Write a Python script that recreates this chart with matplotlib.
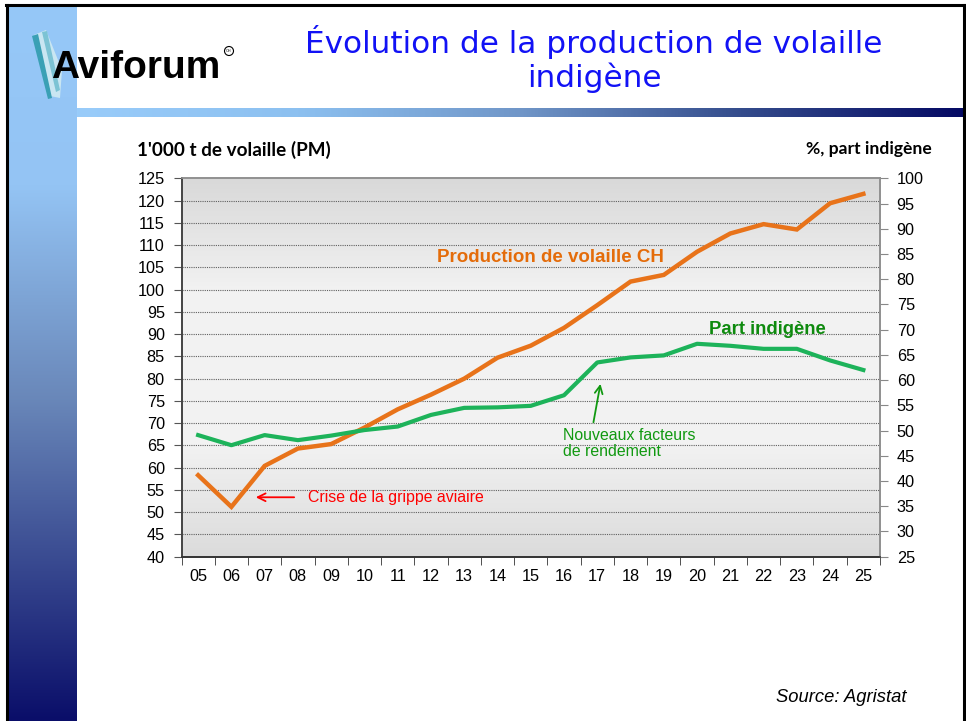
import matplotlib
matplotlib.use("Agg")
import matplotlib.pyplot as plt
from matplotlib.patches import Polygon, Circle
import numpy as np

# data
years = ["05", "06", "07", "08", "09", "10", "11", "12", "13", "14", "15",
         "16", "17", "18", "19", "20", "21", "22", "23", "24", "25"]
production = [58.3, 51.2, 60.4, 64.3, 65.3, 69.0, 73.1, 76.4, 80.0, 84.7, 87.4,
              91.4, 96.5, 101.8, 103.3, 108.5, 112.6, 114.7, 113.5, 119.4, 121.5]
part_indigene = [49.1, 47.1, 49.1, 48.1, 49.0, 50.1, 50.8, 53.1, 54.5, 54.6, 54.9,
                 57.0, 63.5, 64.5, 64.9, 67.2, 66.8, 66.2, 66.2, 63.9, 62.0]
left_ticks = list(range(40, 126, 5))
right_ticks = list(range(25, 101, 5))

ORANGE = "#E8731A"
GREEN = "#1DB35A"
W, H = 966, 721

fig = plt.figure(figsize=(W / 100, H / 100), dpi=100)
fig.patch.set_facecolor("white")

# ---- slide decoration in pixel coordinates ----
bg = fig.add_axes([0, 0, 1, 1], zorder=0)
bg.set_xlim(0, W)
bg.set_ylim(H, 0)
bg.axis("off")

# left vertical gradient bar
ys = np.linspace(0, 1, 300)
stops_y = [0.0, 0.25, 0.55, 1.0]
cols_y = np.array([[150, 200, 248], [148, 196, 244], [105, 135, 185], [10, 14, 105]]) / 255
vgrad = np.stack([np.interp(ys, stops_y, cols_y[:, k]) for k in range(3)], axis=1)
bg.imshow(vgrad[:, None, :], extent=[8, 77, H, 7], aspect="auto", zorder=1)

# horizontal gradient bar under the header
xs = np.linspace(0, 1, 400)
stops_x = [0.0, 0.25, 0.5, 0.75, 1.0]
cols_x = np.array([[153, 204, 250], [140, 192, 240], [112, 150, 200], [52, 76, 140], [5, 10, 100]]) / 255
hgrad = np.stack([np.interp(xs, stops_x, cols_x[:, k]) for k in range(3)], axis=1)
bg.imshow(hgrad[None, :, :], extent=[77, 963, 117, 108], aspect="auto", zorder=1)

# frame
bg.plot([7, 7], [5, H], color="black", lw=2.2, zorder=3)
bg.plot([6, 964], [5, 5], color="black", lw=2.2, zorder=3)
bg.plot([964, 964], [5, H], color="black", lw=2.2, zorder=3)

# logo feather
bg.add_patch(Polygon([[34, 35], [46, 30], [62, 70], [60, 98], [50, 96]], closed=True,
                     facecolor="#c9e6f2", edgecolor="none", zorder=2))
bg.add_patch(Polygon([[32, 36], [38, 34], [52, 98], [48, 99]], closed=True,
                     facecolor="#3aa0b5", edgecolor="none", zorder=2))
bg.add_patch(Polygon([[42, 32], [47, 31], [60, 90], [56, 92]], closed=True,
                     facecolor="#7cc3d4", edgecolor="none", zorder=2))
bg.text(51, 78, "Aviforum", fontsize=28, fontweight="bold", color="black",
        family="Liberation Sans", ha="left", va="baseline", zorder=4)
bg.add_patch(Circle((229, 51), 4.5, facecolor="none", edgecolor="black", lw=0.8, zorder=4))
bg.text(229, 51.5, "CH", fontsize=2.8, ha="center", va="center", zorder=4)

# title
bg.text(594, 42, "Évolution de la production de volaille", fontsize=22.4,
        color="#1212F5", family="DejaVu Sans", ha="center", va="center", zorder=4)
bg.text(594, 78, "indigène", fontsize=22.4, color="#1212F5",
        family="DejaVu Sans", ha="center", va="center", zorder=4)

# axis titles and source
bg.text(137, 150, "1'000 t de volaille (PM)", fontsize=13.6, fontweight="bold",
        family="Lato", ha="left", va="center", zorder=4)
bg.text(932, 149, "%, part indigène", fontsize=12.6, fontweight="bold",
        family="Lato", ha="right", va="center", zorder=4)
bg.text(907, 697, "Source: Agristat", fontsize=13.2, style="italic",
        family="Liberation Sans", ha="right", va="center", zorder=4)

# ---- chart ----
ax = fig.add_axes([181.5 / W, 1 - 556.7 / H, (880 - 181.5) / W, (556.7 - 178.3) / H], zorder=1)
ax2 = ax.twinx()
ax.set_zorder(1)
ax2.set_zorder(2)
ax.patch.set_visible(False)
ax2.patch.set_visible(False)

# plot area gradient (lighter in the middle)
gy = np.linspace(0, 1, 200)
shade = np.interp(gy, [0.0, 0.3, 0.7, 1.0], [0.85, 0.95, 0.95, 0.86])
ax.imshow(np.repeat(shade[:, None], 3, axis=1)[:, None, :], extent=[-0.5, 20.5, 40, 125],
          aspect="auto", zorder=0, vmin=0, vmax=1)

x = np.arange(len(years))
ax.set_xlim(-0.5, len(years) - 0.5)
ax.set_ylim(40, 125)
ax2.set_ylim(25, 100)

for v in left_ticks[1:-1]:
    ax.axhline(v, color="#606060", lw=0.8, ls=(0, (1, 1)), zorder=1)

ax.plot(x, production, color=ORANGE, lw=3.2, solid_joinstyle="miter", zorder=3)
ax2.plot(x, part_indigene, color=GREEN, lw=3.0, zorder=3)

tick_font = dict(family="Liberation Sans", size=11.7)
ax.set_yticks(left_ticks)
ax.set_yticklabels([str(v) for v in left_ticks], fontdict=tick_font)
ax2.set_yticks(right_ticks)
ax2.set_yticklabels([str(v) for v in right_ticks], fontdict=tick_font)
ax.set_xticks(x)
ax.set_xticklabels(years, fontdict=tick_font)
ax.set_xticks(np.arange(-0.5, len(years)), minor=True)
ax.tick_params(axis="x", which="major", length=0, pad=9)
ax.tick_params(axis="x", which="minor", length=6, direction="out", color="#333333")
ax.tick_params(axis="y", length=6, direction="out", color="#555555", pad=6)
ax2.tick_params(axis="y", length=6, direction="out", color="#888888", pad=6)

for a in (ax, ax2):
    a.spines["top"].set_color("#909090")
    a.spines["right"].set_color("#909090")
    a.spines["left"].set_color("#444444")
    a.spines["bottom"].set_color("#333333")
    for s in a.spines.values():
        s.set_linewidth(1.2)

# annotations
ax.text(10.6, 107.3, "Production de volaille CH", color="#E46C0A",
        fontsize=13.5, fontweight="bold", family="Liberation Sans", ha="center", va="center")
ax2.text(17.1, 70.0, "Part indigène", color="#0E8A0E", fontsize=13.3, fontweight="bold",
         family="Liberation Sans", ha="center", va="center")
ax2.text(10.97, 47.4, "Nouveaux facteurs\nde rendement", color="#119911", fontsize=11.4,
         family="Liberation Sans", ha="left", va="center", linespacing=1.1)
ax2.annotate("", xy=(12.11, 59.8), xytext=(11.87, 51.1),
             arrowprops=dict(arrowstyle="->", color="#119911", lw=1.3,
                             mutation_scale=14))
ax.text(3.3, 53.35, "Crise de la grippe aviaire", color="#FF0000", fontsize=11.4,
        family="Liberation Sans", ha="left", va="center")
ax.annotate("", xy=(1.65, 53.35), xytext=(2.97, 53.35),
            arrowprops=dict(arrowstyle="->", color="#FF0000", lw=1.3,
                            mutation_scale=14))

fig.savefig("out.png", dpi=100)
